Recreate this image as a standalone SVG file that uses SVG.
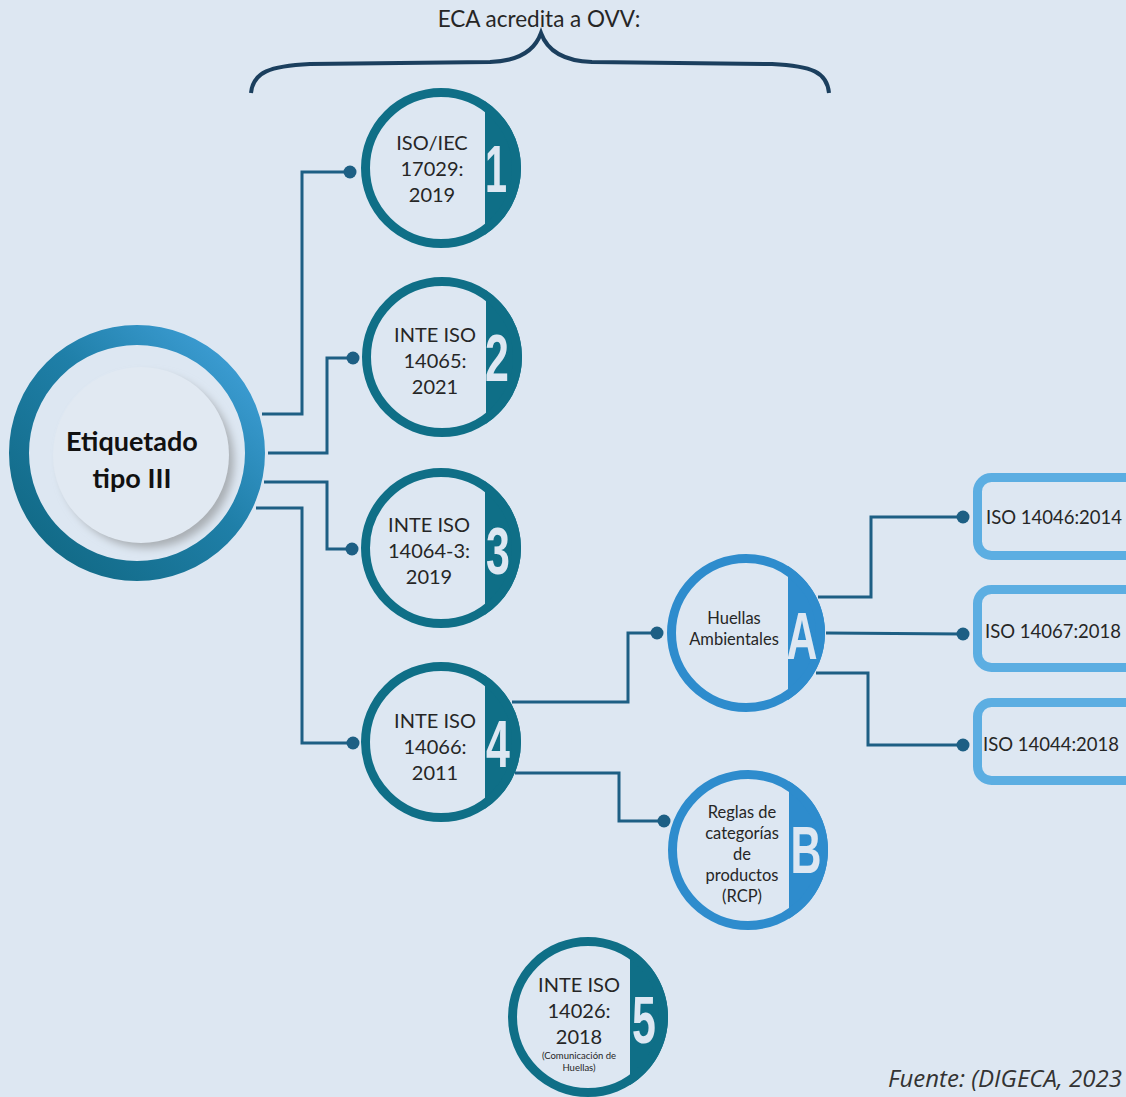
<svg xmlns="http://www.w3.org/2000/svg" width="1126" height="1097" viewBox="0 0 1126 1097">
<defs>
<linearGradient id="ringGrad" x1="0" y1="1" x2="1" y2="0">
<stop offset="0" stop-color="#0f6680"/>
<stop offset="0.55" stop-color="#1f7fa8"/>
<stop offset="1" stop-color="#44a4de"/>
</linearGradient>
<filter id="blur" x="-20%" y="-20%" width="140%" height="140%">
<feGaussianBlur stdDeviation="4"/>
</filter>
<style>
.bg{fill:#dde7f2}
.ringT{fill:none;stroke:#0f6f87;stroke-width:9}
.segT{fill:#0f6f87}
.ringB{fill:none;stroke:#2e8ccd;stroke-width:9}
.segB{fill:#2e8ccd}
.num{font-family:"Liberation Sans",Arial,sans-serif;font-weight:bold;font-size:66px;fill:#dde7f2;text-anchor:middle}
.t{font-family:Lato,"Open Sans",sans-serif;font-size:20px;fill:#262626;text-anchor:middle}
.title{font-family:Lato,"Open Sans",sans-serif;font-size:22.5px;fill:#262626;text-anchor:middle}
.ts{font-family:Lato,"Open Sans",sans-serif;font-size:16.5px;fill:#262626;text-anchor:middle}
.tx{font-family:Lato,"Open Sans",sans-serif;font-size:9.5px;fill:#262626;text-anchor:middle}
.conn path{fill:none;stroke:#1d5f84;stroke-width:3}
.conn circle{fill:#1d5f84}
.box{fill:#dde7f2;stroke:#5caee2;stroke-width:9}
.bt{font-family:Lato,"Open Sans",sans-serif;font-size:18.5px;fill:#262626}
</style>
</defs>
<rect class="bg" x="0" y="0" width="1126" height="1097"/>

<g id="title">
<text x="539" y="27" class="title">ECA acredita a OVV:</text>
<path d="M251,93 C253,72 270,66 310,64 L490,62 C520,61 535,50 541,33 C547,50 562,61 592,62 L772,64 C812,66 827,72 829,93" fill="none" stroke="#1b3f5e" stroke-width="4"/>
</g>

<g class="conn" id="connectors">
<path d="M262,414 H302 V172 H350"/>
<circle cx="350" cy="172" r="6.5"/>
<path d="M268,453 H327 V358 H353"/>
<circle cx="353" cy="358" r="6.5"/>
<path d="M264,482 H327 V549 H352"/>
<circle cx="352" cy="549" r="6.5"/>
<path d="M256,508 H302 V743 H353"/>
<circle cx="353" cy="743" r="6.5"/>
<path d="M512,702 H628 V633 H657"/>
<circle cx="657" cy="633" r="6.5"/>
<path d="M515,773 H619 V821 H664"/>
<circle cx="664" cy="821" r="6.5"/>
<path d="M818,597 H871 V517 H963"/>
<circle cx="963" cy="517" r="6.5"/>
<path d="M826,633 L963,634"/>
<circle cx="963" cy="634" r="6.5"/>
<path d="M816,673 H868 V745 H963"/>
<circle cx="963" cy="745" r="6.5"/>
</g>

<g id="main">
<circle cx="147" cy="461" r="87" fill="#a9aeb3" filter="url(#blur)"/>
<circle cx="141" cy="455" r="88" fill="#e1e9f2"/>
<circle cx="137" cy="453" r="118" fill="none" stroke="url(#ringGrad)" stroke-width="20"/>
<text x="132" y="451" font-family="Lato,'Open Sans',sans-serif" font-weight="bold" font-size="27" fill="#111" text-anchor="middle">Etiquetado</text>
<text x="132" y="488" font-family="Lato,'Open Sans',sans-serif" font-weight="bold" font-size="27" fill="#111" text-anchor="middle">tipo III</text>
</g>

<g id="n1">
<path class="segT" d="M485,101.2 A80,80 0 0 1 485,234.8 Z"/>
<circle class="ringT" cx="441" cy="168" r="75.5"/>
<text class="num" transform="translate(496,192) scale(0.6,1)">1</text>
<text class="t" x="432" y="150">ISO/IEC</text>
<text class="t" x="432" y="176">17029:</text>
<text class="t" x="432" y="202">2019</text>
</g>

<g id="n2">
<path class="segT" d="M486,290.2 A80,80 0 0 1 486,423.8 Z"/>
<circle class="ringT" cx="442" cy="357" r="75.5"/>
<text class="num" transform="translate(497,381) scale(0.65,1)">2</text>
<text class="t" x="435" y="342">INTE ISO</text>
<text class="t" x="435" y="368">14065:</text>
<text class="t" x="435" y="394">2021</text>
</g>

<g id="n3">
<path class="segT" d="M485,481.2 A80,80 0 0 1 485,614.8 Z"/>
<circle class="ringT" cx="441" cy="548" r="75.5"/>
<text class="num" transform="translate(498,574) scale(0.65,1)">3</text>
<text class="t" x="429" y="532">INTE ISO</text>
<text class="t" x="429" y="558">14064-3:</text>
<text class="t" x="429" y="584">2019</text>
</g>

<g id="n4">
<path class="segT" d="M485,675.2 A80,80 0 0 1 485,808.8 Z"/>
<circle class="ringT" cx="441" cy="742" r="75.5"/>
<text class="num" transform="translate(498,767) scale(0.65,1)">4</text>
<text class="t" x="435" y="728">INTE ISO</text>
<text class="t" x="435" y="754">14066:</text>
<text class="t" x="435" y="780">2011</text>
</g>

<g id="n5">
<path class="segT" d="M630,948.9 A80,80 0 0 1 630,1085.1 Z"/>
<circle class="ringT" cx="588" cy="1017" r="75.5"/>
<text class="num" transform="translate(644,1043) scale(0.65,1)">5</text>
<text class="t" x="579" y="992">INTE ISO</text>
<text class="t" x="579" y="1018">14026:</text>
<text class="t" x="579" y="1044">2018</text>
<text class="tx" x="579" y="1059">(Comunicación de</text>
<text class="tx" x="579" y="1071">Huellas)</text>
</g>

<g id="nA">
<path class="segB" d="M788,566.1 A79,79 0 0 1 788,699.9 Z"/>
<circle class="ringB" cx="746" cy="633" r="74.5"/>
<text class="num" transform="translate(802,659) scale(0.65,1)">A</text>
<text class="ts" x="734" y="624">Huellas</text>
<text class="ts" x="734" y="645">Ambientales</text>
</g>

<g id="nB">
<path class="segB" d="M789,781.3 A80,80 0 0 1 789,918.7 Z"/>
<circle class="ringB" cx="748" cy="850" r="75.5"/>
<text class="num" transform="translate(806,873) scale(0.65,1)">B</text>
<text class="ts" x="742" y="818">Reglas de</text>
<text class="ts" x="742" y="839">categorías</text>
<text class="ts" x="742" y="860">de</text>
<text class="ts" x="742" y="881">productos</text>
<text class="ts" x="742" y="902">(RCP)</text>
</g>

<g id="b1">
<rect class="box" x="977.5" y="477.5" width="170" height="78" rx="14"/>
<text class="bt" x="986" y="524">ISO 14046:2014</text>
</g>
<g id="b2">
<rect class="box" x="977.5" y="589.5" width="170" height="78" rx="14"/>
<text class="bt" x="985" y="638">ISO 14067:2018</text>
</g>
<g id="b3">
<rect class="box" x="977.5" y="702.5" width="170" height="78" rx="14"/>
<text class="bt" x="983" y="751">ISO 14044:2018</text>
</g>

<text x="888" y="1087" font-family="'Open Sans',Lato,sans-serif" font-style="italic" font-size="24" fill="#333">Fuente: (DIGECA, 2023</text>
</svg>
